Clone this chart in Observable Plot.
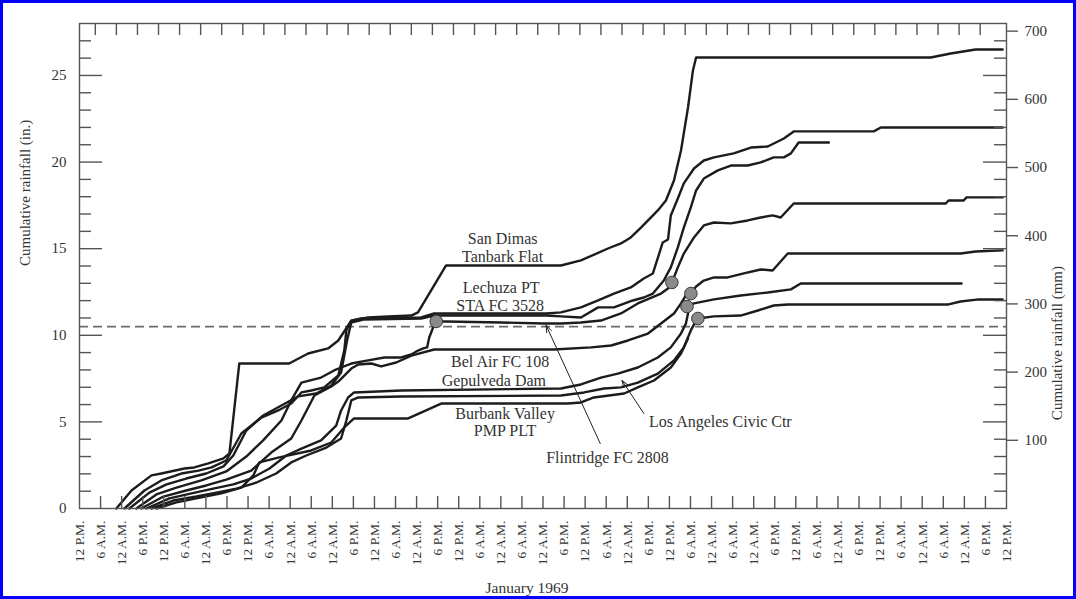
<!DOCTYPE html>
<html><head><meta charset="utf-8">
<script src="https://cdn.jsdelivr.net/npm/d3@7"></script>
<script src="https://cdn.jsdelivr.net/npm/@observablehq/plot@0.6"></script>
<style>
body{margin:0;background:#fff;}
#wrap{position:relative;width:1076px;height:599px;overflow:hidden;background:#fff;}
#border{position:absolute;left:0;top:0;width:1076px;height:599px;box-sizing:border-box;border:3px solid #0000ff;pointer-events:none;}
</style></head><body><div id="wrap"><div id="border"></div></div>
<script>
// x = hours since the first tick (12 P.M.), y = cumulative rainfall in inches
const xTickLabels = ["12 P.M.","6 A.M.","12 A.M.","6 P.M.","12 P.M.","6 A.M.","12 A.M.","6 P.M.","12 P.M.","6 A.M.","12 A.M.","6 A.M.","12 A.M.","6 P.M.","12 P.M.","6 A.M.","12 A.M.","6 P.M.","12 P.M.","6 A.M.","12 A.M.","6 A.M.","12 A.M.","6 P.M.","12 P.M.","6 A.M.","12 A.M.","6 P.M.","12 P.M.","6 A.M.","12 A.M.","6 A.M.","12 A.M.","6 P.M.","12 P.M.","6 A.M.","12 A.M.","6 P.M.","12 P.M.","6 A.M.","12 A.M.","6 A.M.","12 A.M.","6 P.M.","12 P.M."];
const yTicksIn = [0,5,10,15,20,25];
const yTicksMm = [100,200,300,400,500,600,700];
const threshold = 10.5;

const sanDimas = [[10.5,0],[14.8,1.04],[20.5,1.91],[23.3,2.02],[29.9,2.31],[32.7,2.37],[36.7,2.60],[41.0,2.89],[42.7,3.18],[45.5,8.37],[59.7,8.37],[65.1,8.95],[70.8,9.24],[73.7,9.70],[77.4,10.85],[82.2,11.03],[87.9,11.09],[94.5,11.14],[96.4,11.32],[104.4,14.03],[137.1,14.03],[142.8,14.32],[150.5,15.01],[154.2,15.30],[157.0,15.65],[159.9,16.22],[164.7,17.21],[167.0,17.78],[169.3,18.94],[171.3,20.67],[173.3,23.15],[174.7,25.29],[175.6,26.04],[242.4,26.04],[248.1,26.27],[255.2,26.50],[262.9,26.50]];
const lechuza = [[12.8,0],[18.5,1.04],[23.3,1.62],[29.0,2.02],[33.9,2.19],[37.6,2.37],[41.8,2.77],[46.1,4.33],[51.8,5.25],[56.6,5.66],[60.3,6.06],[63.2,6.70],[66.0,6.81],[69.7,6.99],[73.7,7.68],[75.4,9.12],[76.0,10.28],[77.4,10.85],[80.2,10.97],[97.3,11.03],[101.0,11.26],[132.9,11.26],[137.1,11.32],[142.8,11.61],[147.7,12.01],[152.2,12.41],[157.0,12.76],[160.7,13.28],[163.3,13.57],[166.1,15.36],[167.6,15.53],[168.4,16.92],[170.4,17.90],[172.1,18.77],[175.0,19.63],[177.8,20.09],[180.7,20.27],[186.3,20.50],[191.2,20.84],[196.0,20.90],[200.6,21.36],[203.4,21.77],[226.2,21.77],[228.2,22.00],[262.9,22.00]];
const station3 = [[14.2,0],[19.9,0.92],[24.8,1.39],[30.4,1.73],[36.1,2.02],[41.0,2.43],[43.8,3.06],[47.5,4.50],[52.3,5.37],[57.5,5.95],[62.3,6.47],[67.4,6.64],[71.7,7.10],[74.5,7.85],[76.2,9.70],[77.4,10.74],[80.8,10.91],[97.3,10.97],[101.0,11.14],[132.9,11.14],[137.1,11.09],[142.8,11.03],[147.7,11.61],[152.2,11.61],[157.6,12.01],[160.7,12.18],[163.3,12.41],[166.4,13.16],[168.4,13.92],[170.4,15.07],[172.1,16.22],[174.1,17.38],[175.6,18.36],[177.8,19.05],[181.8,19.52],[185.5,19.80],[190.3,19.80],[194.0,19.98],[197.7,20.27],[200.6,20.27],[202.6,20.50],[204.8,21.13],[213.4,21.13]];
const flintridge = [[16.2,0],[21.9,0.81],[27.6,1.21],[34.7,1.62],[41.8,2.14],[47.5,3.00],[52.3,3.93],[57.5,5.08],[60.3,6.24],[63.2,7.27],[68.8,7.56],[72.5,7.97],[74.5,8.14],[77.4,8.37],[82.2,8.55],[86.8,8.72],[91.6,8.72],[94.5,8.89],[96.4,9.12],[97.9,9.24],[99.0,9.30],[99.6,9.87],[100.7,10.45],[101.6,10.80],[104.4,10.80],[120.1,10.74],[132.3,10.68],[137.1,10.68],[142.8,10.74],[148.5,10.85],[154.2,11.26],[159.0,11.84],[165.6,12.41],[167.6,12.70],[168.7,13.05],[170.4,13.92],[172.1,14.72],[175.0,15.65],[177.8,16.34],[180.7,16.51],[185.5,16.46],[190.3,16.63],[194.0,16.80],[197.4,16.92],[199.7,16.80],[203.4,17.61],[246.7,17.61],[247.5,17.78],[251.8,17.78],[252.6,17.96],[262.9,17.96]];
const belAir = [[17.6,0],[23.9,0.69],[30.4,1.04],[36.1,1.33],[41.8,1.67],[48.9,2.19],[54.6,3.23],[60.3,4.04],[63.2,5.08],[66.9,6.52],[71.7,7.04],[73.7,7.33],[77.4,8.08],[79.4,8.31],[83.1,8.37],[85.9,8.20],[90.2,8.43],[94.5,8.83],[101.0,9.18],[135.1,9.18],[145.7,9.30],[151.4,9.41],[156.2,9.70],[161.9,10.10],[165.6,10.68],[169.3,11.26],[171.3,11.84],[172.7,12.30],[174.1,12.41],[175.6,12.82],[177.8,13.16],[180.7,13.34],[184.6,13.34],[189.2,13.57],[194.0,13.80],[197.4,13.74],[201.7,14.72],[250.9,14.72],[255.2,14.84],[262.9,14.90]];
const gepulveda = [[19.1,0],[25.6,0.58],[31.9,0.87],[38.1,1.15],[43.8,1.39],[48.9,1.73],[54.1,2.31],[58.9,3.06],[63.2,3.46],[68.8,3.93],[73.1,4.79],[74.5,5.66],[76.5,6.41],[78.2,6.70],[91.6,6.81],[137.1,6.93],[142.8,7.16],[148.5,7.56],[153.3,7.79],[159.0,8.14],[164.7,8.72],[168.4,9.30],[171.3,10.10],[172.7,10.68],[173.3,11.26],[173.0,11.66],[175.0,11.84],[180.7,12.07],[188.3,12.30],[196.0,12.47],[202.6,12.65],[205.4,12.99],[251.2,12.99]];
const laCivic = [[20.5,0],[26.7,0.46],[33.3,0.69],[39.0,0.92],[44.7,1.15],[50.4,1.50],[56.0,2.02],[60.3,2.66],[64.6,3.06],[70.3,3.52],[74.5,4.04],[76.0,5.08],[77.4,6.24],[79.4,6.41],[91.6,6.47],[137.1,6.52],[143.7,6.70],[149.4,6.93],[154.2,6.99],[159.0,7.27],[164.7,7.79],[169.3,8.55],[172.1,9.30],[174.1,10.28],[175.6,10.85],[176.1,10.97],[180.7,11.09],[188.3,11.14],[193.2,11.43],[197.7,11.72],[201.7,11.78],[247.5,11.78],[250.9,11.95],[256.1,12.07],[262.9,12.07]];
const burbank = [[21.9,0],[27.6,0.35],[34.7,0.64],[40.4,0.87],[46.1,1.21],[49.5,1.91],[51.2,2.66],[56.6,2.94],[66.0,3.35],[71.7,3.81],[75.4,4.68],[78.2,5.20],[93.6,5.20],[103.0,6.06],[139.1,6.06],[142.8,6.12],[146.5,6.41],[155.1,6.64],[159.0,6.99],[163.6,7.39],[168.4,8.14],[171.3,8.95],[173.3,9.82]];

const markerPoints = [[101.6,10.80],[168.7,13.05],[174.1,12.41],[173.0,11.66],[176.1,10.97]];

const labels = [
  {x:120.5,y:15.57,text:"San Dimas",anchor:"middle"},
  {x:120.5,y:14.51,text:"Tanbark Flat",anchor:"middle"},
  {x:120.1,y:12.75,text:"Lechuza PT",anchor:"middle"},
  {x:119.8,y:11.72,text:"STA FC 3528",anchor:"middle"},
  {x:119.8,y:8.49,text:"Bel Air FC 108",anchor:"middle"},
  {x:118.0,y:7.39,text:"Gepulveda Dam",anchor:"middle"},
  {x:121.2,y:5.46,text:"Burbank Valley",anchor:"middle"},
  {x:121.2,y:4.50,text:"PMP PLT",anchor:"middle"},
  {x:132.9,y:2.94,text:"Flintridge FC 2808",anchor:"start"},
  {x:162.2,y:5.02,text:"Los Angeles Civic Ctr",anchor:"start"}
];
const pointers = [
  {x1:148.3,y1:3.75,x2:132.9,y2:10.57},
  {x1:160.7,y1:5.49,x2:154.5,y2:7.39}
];

const series = {sanDimas, lechuza, station3, flintridge, belAir, gepulveda, laCivic, burbank};
const lineRows = Object.entries(series).flatMap(([k, arr]) => arr.map(([h, v]) => ({k, h, v})));
const xTicks = xTickLabels.map((_, i) => i * 6);
const innerTicks = xTicks.slice(1, -1);
const topTicks = d3.range(4.5, 260, 6);
const minorY = d3.range(1, 28).filter(d => d % 5 !== 0);
const majorY = [5,10,15,20,25];

const W = 1076, H = 599, mL = 79, mR = 70, mT = 23, mB = 91;
const iw = W - mL - mR, ih = H - mT - mB;
const axisColor = "#555";
const textColor = "#333";

const chart = Plot.plot({
  width: W, height: H,
  marginLeft: mL, marginRight: mR, marginTop: mT, marginBottom: mB,
  x: {domain: [0, 264], axis: null},
  y: {domain: [0, 28], axis: null},
  style: {fontFamily: "'Liberation Serif', 'Times New Roman', serif", background: "transparent", color: textColor},
  marks: [
    Plot.ruleY([threshold], {stroke: "#6b6b6b", strokeWidth: 1.7, strokeDasharray: "9,5"}),
    Plot.line(lineRows, {x: "h", y: "v", z: "k", stroke: "#1c1c1c", strokeWidth: 2.4, strokeLinejoin: "round", strokeLinecap: "round"}),
    Plot.dot(markerPoints, {x: d => d[0], y: d => d[1], r: 6.3, fill: "#8a8a8a", stroke: "#3a3a3a", strokeWidth: 1}),
    Plot.arrow(pointers, {x1: "x1", y1: "y1", x2: "x2", y2: "y2", stroke: "#222", strokeWidth: 1, headLength: 11, headAngle: 40}),
    Plot.text(labels.filter(d => d.anchor === "middle"), {x: "x", y: "y", text: "text", fontSize: 16, fill: textColor, textAnchor: "middle"}),
    Plot.text(labels.filter(d => d.anchor === "start"), {x: "x", y: "y", text: "text", fontSize: 16, fill: textColor, textAnchor: "start"}),
    // frame
    Plot.frame({stroke: axisColor, strokeWidth: 1.4}),
    // bottom inward ticks
    Plot.ruleX(innerTicks, {x: d => d, insetTop: ih - 12, stroke: axisColor, strokeWidth: 1.4}),
    // top inward ticks
    Plot.ruleX(topTicks, {x: d => d, insetBottom: ih - 12, stroke: axisColor, strokeWidth: 1.4}),
    // left inward ticks
    Plot.ruleY(minorY, {y: d => d, insetRight: iw - 12, stroke: axisColor, strokeWidth: 1.4}),
    Plot.ruleY(majorY, {y: d => d, insetRight: iw - 23, stroke: axisColor, strokeWidth: 1.4}),
    // right inward ticks
    Plot.ruleY(minorY, {y: d => d, insetLeft: iw - 12, stroke: axisColor, strokeWidth: 1.4}),
    Plot.ruleY(majorY, {y: d => d, insetLeft: iw - 23, stroke: axisColor, strokeWidth: 1.4}),
    // right outward mm ticks
    Plot.ruleY(yTicksMm, {y: d => d / 25.4, insetLeft: iw, insetRight: -12, stroke: axisColor, strokeWidth: 1.4}),
    // left labels
    Plot.text(yTicksIn, {y: d => d, text: d => String(d), frameAnchor: "left", dx: -13, textAnchor: "end", fontSize: 15, fill: textColor}),
    // right labels
    Plot.text(yTicksMm, {y: d => d / 25.4, text: d => String(d), frameAnchor: "right", dx: 18, textAnchor: "start", fontSize: 15, fill: textColor}),
    // bottom labels
    Plot.text(xTicks, {x: d => d, text: (d, i) => xTickLabels[i], frameAnchor: "bottom", dy: 12, rotate: -90, textAnchor: "end", lineAnchor: "middle", fontSize: 13.5, fill: textColor}),
    // titles
    Plot.text(["January 1969"], {frameAnchor: "bottom", dx: -16, dy: 84, fontSize: 15.5, fill: textColor}),
    Plot.text(["Cumulative rainfall (in.)"], {frameAnchor: "left", dx: -54, dy: 0, rotate: -90, fontSize: 15, fill: textColor}),
    Plot.text(["Cumulative rainfall (mm)"], {frameAnchor: "right", dx: 51, dy: 0, rotate: -90, fontSize: 15, fill: textColor})
  ]
});
document.getElementById("wrap").prepend(chart);
</script></body></html>
